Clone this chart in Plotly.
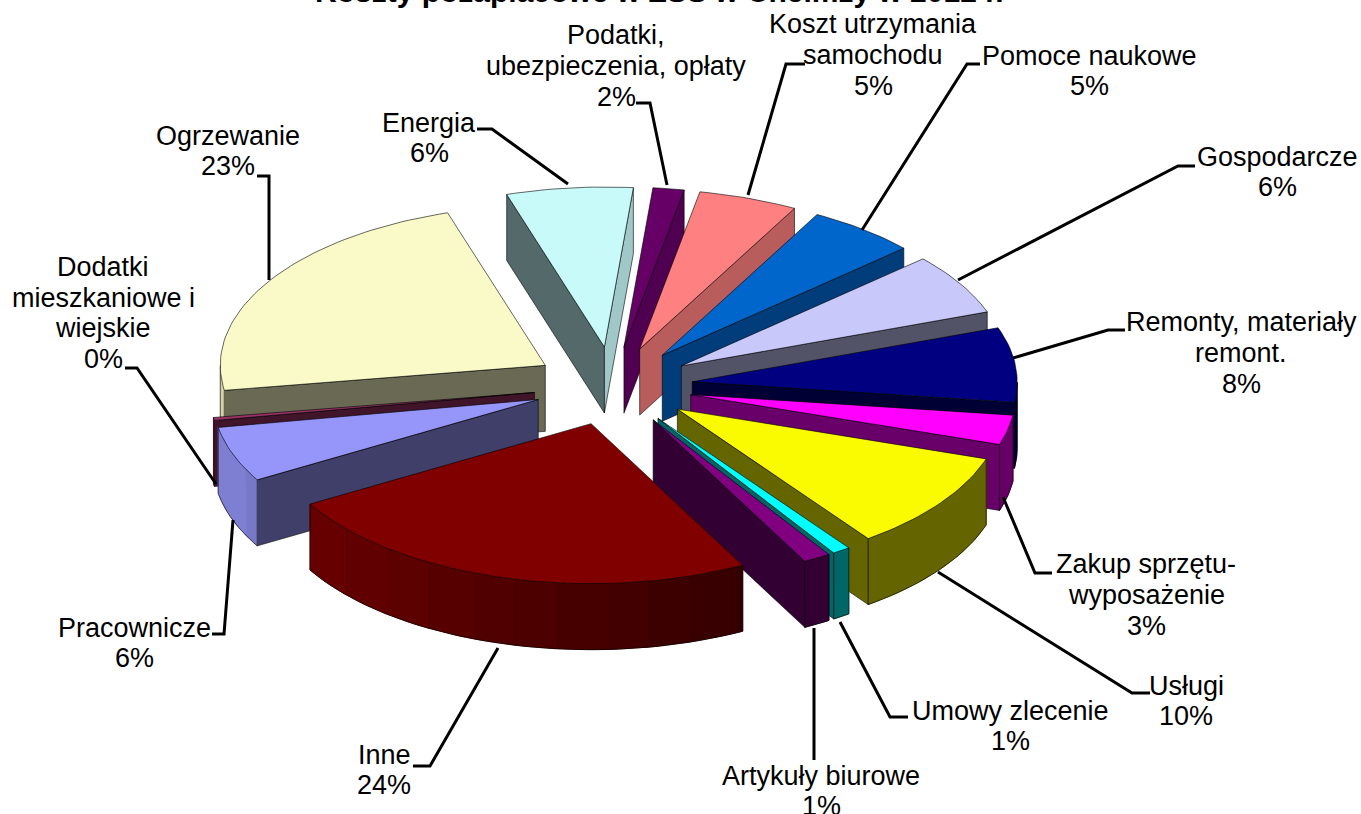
import numpy as np
import plotly.graph_objects as go

# ---- data (clockwise from the start angle) ----
labels = ["Energia", "Podatki,<br>ubezpieczenia, opłaty", "Koszt utrzymania<br>samochodu", "Pomoce naukowe",
          "Gospodarcze", "Remonty, materiały<br>remont.", "Zakup sprzętu-<br>wyposażenie", "Usługi",
          "Umowy zlecenie", "Artykuły biurowe", "Inne", "Pracownicze",
          "Dodatki<br>mieszkaniowe i<br>wiejskie", "Ogrzewanie"]
values = [6.3, 1.55, 4.95, 5.45, 6.2, 7.55, 3, 10, 0.9, 1.37, 24.42, 5.6, 0.3, 22.7]
percent_text = ["6%", "2%", "5%", "5%", "6%", "8%", "3%", "10%", "1%", "1%", "24%", "6%", "0%", "23%"]
colors = ["#C8FAFA", "#660066", "#FF8080", "#0066CC", "#C8C8FA", "#000080", "#FF00FF", "#FAFA00",
          "#00FFFF", "#800080", "#800000", "#9696FA", "#993366", "#FAFAC8"]
title = "Koszty pozapłacowe w ZSS w Chełmży w 2012 r."

# ---- label placement (centre x, centre y) and leader lines, in page units ----
label_pos = [(429, 138), (616, 66), (873, 55), (1089, 71), (1277, 172), (1241, 353), (1146, 595),
             (1186, 701), (1010, 726), (821, 791), (384, 770), (134, 643), (103, 313), (228, 151)]
leaders = [[(477, 129), (492, 129), (568, 184)], [(636, 103), (650, 103), (667, 185)],
           [(805, 64), (786, 64), (748, 195)], [(980, 64), (967, 64), (862, 230)],
           [(1195, 166), (1178, 166), (958, 280)], [(1125, 330), (1108, 330), (1013, 358)],
           [(1052, 573), (1035, 573), (1003, 497)], [(1150, 693), (1132, 693), (938, 572)],
           [(908, 717), (890, 717), (840, 622)], [(814, 628), (814, 760)],
           [(413, 766), (430, 766), (498, 648)], [(212, 634), (224, 634), (233, 520)],
           [(125, 368), (137, 368), (216, 484)], [(257, 176), (269, 176), (269, 280)]]

# ---- pie geometry ----
CX, CY, RX, RY = 613, 386, 325, 160
EXPLODE = 0.245
DEPTH = 66
START = -17.5
LINE_STEP = 30.7
FONT = "Liberation Sans, Arial, sans-serif"
EDGE = "rgba(0,0,0,0.75)"


def shade(hex_color, k):
    r, g, b = (int(hex_color[i:i + 2], 16) for i in (1, 3, 5))
    return f"rgb({int(r * k)},{int(g * k)},{int(b * k)})"


def poly(fig, xs, ys, fill, edge=True):
    fig.add_trace(go.Scatter(x=xs, y=ys, mode="lines", fill="toself", fillcolor=fill,
                             line=dict(color=EDGE if edge else fill, width=0.8 if edge else 1),
                             hoverinfo="skip", showlegend=False))


fig = go.Figure()
fractions = np.array(values, dtype=float) / np.sum(values) * 360
ends = START + np.cumsum(fractions)
starts = ends - fractions
mids = (starts + ends) / 2
order = np.argsort(-np.cos(np.radians(mids)))

for i in order:
    t1, t2, tm = starts[i], ends[i], mids[i]
    ax = CX + EXPLODE * RX * np.sin(np.radians(tm))
    ay = CY - EXPLODE * RY * np.cos(np.radians(tm))
    th = np.radians(np.linspace(t1, t2, max(3, int((t2 - t1) / 1.5) + 2)))
    rx_pts = ax + RX * np.sin(th)
    ry_pts = ay - RY * np.cos(th)
    col = colors[i]
    # start radial face
    if np.sin(np.radians(t1)) < 0:
        poly(fig, [ax, rx_pts[0], rx_pts[0], ax, ax], [ay, ry_pts[0], ry_pts[0] + DEPTH, ay + DEPTH, ay],
             shade(col, 0.42))
    # end radial face
    if np.sin(np.radians(t2)) > 0:
        k = float(np.interp(t2 % 360, [0, 30, 48, 69, 180], [0.82, 0.72, 0.6, 0.42, 0.4]))
        poly(fig, [ax, rx_pts[-1], rx_pts[-1], ax, ax], [ay, ry_pts[-1], ry_pts[-1] + DEPTH, ay + DEPTH, ay],
             shade(col, k))
    # outer curved wall: bands of equal shade
    vis = np.where(np.cos(th) < 0.02)[0]
    if len(vis) > 1:
        shades = np.round(np.clip(0.55 - 0.3 * np.sin((th[vis[:-1]] + th[vis[1:]]) / 2), 0.42, 0.9) / 0.04) * 0.04
        a = 0
        while a < len(shades):
            b = a
            while b + 1 < len(shades) and shades[b + 1] == shades[a]:
                b += 1
            idx = vis[a:b + 2]
            poly(fig, np.r_[rx_pts[idx], rx_pts[idx][::-1], rx_pts[idx][0]],
                 np.r_[ry_pts[idx], ry_pts[idx][::-1] + DEPTH, ry_pts[idx][0]], shade(col, float(shades[a])), edge=False)
            a = b + 1
        fig.add_trace(go.Scatter(
            x=np.r_[rx_pts[vis[0]], rx_pts[vis], rx_pts[vis[-1]]],
            y=np.r_[ry_pts[vis[0]], ry_pts[vis] + DEPTH, ry_pts[vis[-1]]],
            mode="lines", line=dict(color=EDGE, width=0.8), hoverinfo="skip", showlegend=False))
    # top surface
    poly(fig, np.r_[ax, rx_pts, ax], np.r_[ay, ry_pts, ay], col)

for pts in leaders:
    fig.add_trace(go.Scatter(x=[p[0] for p in pts], y=[p[1] for p in pts], mode="lines",
                             line=dict(color="#000000", width=3), hoverinfo="skip", showlegend=False))

annotations = [dict(x=659, y=10, text=f"<b>{title}</b>", showarrow=False, xanchor="center", yanchor="bottom",
                    font=dict(family=FONT, size=30, color="#000000"), xref="x", yref="y")]
for lab, pct, (x, y) in zip(labels, percent_text, label_pos):
    lines = lab.split("<br>") + [pct]
    for n, line in enumerate(lines):
        annotations.append(dict(x=x, y=y + (n - (len(lines) - 1) / 2) * LINE_STEP, text=line, showarrow=False,
                                xanchor="center", yanchor="middle", align="center",
                                font=dict(family=FONT, size=27, color="#000000"), xref="x", yref="y"))

fig.update_layout(width=1361, height=814, margin=dict(l=0, r=0, t=0, b=0), paper_bgcolor="white",
                  plot_bgcolor="white", showlegend=False, annotations=annotations,
                  xaxis=dict(range=[0, 1361], visible=False, fixedrange=True),
                  yaxis=dict(range=[814, 0], visible=False, fixedrange=True))

fig.write_html("out.html", config={"displayModeBar": False},
               post_script="document.body.style.margin='0';document.body.style.overflow='hidden';")
